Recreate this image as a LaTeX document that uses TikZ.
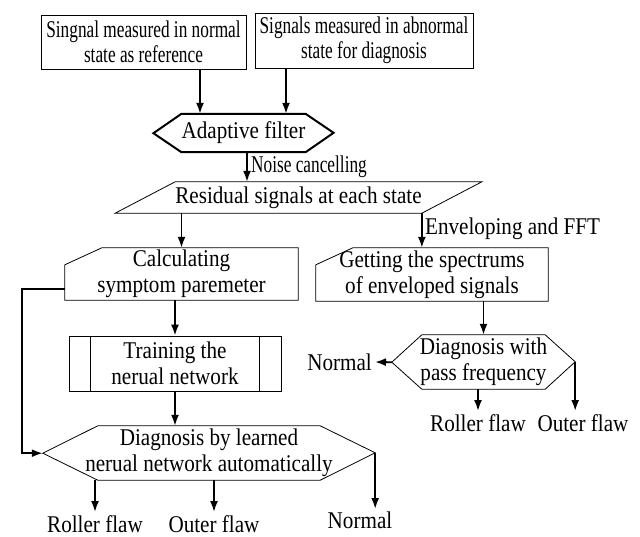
\documentclass[tikz,border=0pt]{standalone}
\usepackage{fontspec}
\setmainfont{Liberation Serif}
\usetikzlibrary{arrows.meta}

\begin{document}
\begin{tikzpicture}[x=1pt, y=-1pt, >={Latex[length=11pt,width=8pt]},
    font=\fontsize{24}{26}\selectfont\addfontfeature{FakeStretch=0.88},
    box/.style={draw, line width=0.8pt, align=center, inner sep=0pt},
    txt/.style={align=center, inner sep=0pt},
    wide/.style={inner xsep=-20pt},
    narrow/.style={font=\fontsize{24}{25}\selectfont\addfontfeature{FakeStretch=0.72}},
    outline/.style={line width=0.8pt},
    flow/.style={->, line width=1.8pt},
    lbl/.style={inner sep=3pt}]
  \useasboundingbox (0,0) rectangle (640,536);

  % input signals
  \node[box, narrow, minimum width=205, minimum height=54] (ref) at (143.5,42) {Singnal measured in normal\\state as reference};
  \node[box, narrow, minimum width=218, minimum height=55] (abn) at (364,40.5) {Signals measured in abnormal\\state for diagnosis};

  % adaptive filter
  \node[txt, minimum width=107, minimum height=38] (filter) at (243.5,133) {Adaptive filter};
  \draw[line width=2pt] (filter.north west) -- (filter.north east) -- ++(28,19) -- (filter.south east)
    -- (filter.south west) -- ++(-28,-19) -- cycle;

  % residual signals
  \node[txt, minimum width=243, minimum height=31] (resid) at (298.5,197.5) {Residual signals at each state};
  \draw[outline] (resid.north west) -- ([xshift=60pt]resid.north east) -- (resid.south east)
    -- ([xshift=-60pt]resid.south west) -- cycle;

  % left branch
  \node[txt, minimum width=233, minimum height=52] (calc) at (181.5,274) {Calculating\\symptom paremeter};
  \draw[outline] ([xshift=37pt]calc.north west) -- (calc.north east) -- (calc.south east)
    -- (calc.south west) -- ([yshift=-17pt]calc.north west) -- cycle;

  \node[box, minimum width=212, minimum height=55] (train) at (175,363.5) {Training the\\nerual network};
  \draw[outline] ([xshift=22pt]train.north west) -- ([xshift=22pt]train.south west)
    ([xshift=-22pt]train.north east) -- ([xshift=-22pt]train.south east);

  \node[txt, wide, minimum width=222, minimum height=54] (diagNN) at (209,453) {Diagnosis by learned\\nerual network automatically};
  \draw[outline] (diagNN.north west) -- (diagNN.north east) -- ++(55,27) coordinate (nnR) -- (diagNN.south east)
    -- (diagNN.south west) -- ++(-55,-27) coordinate (nnL) -- cycle;

  % right branch
  \node[txt, minimum width=232, minimum height=53] (spec) at (432,274.5) {Getting the spectrums\\of enveloped signals};
  \draw[outline] ([xshift=37pt]spec.north west) -- (spec.north east) -- (spec.south east)
    -- (spec.south west) -- ([yshift=-17pt]spec.north west) -- cycle;

  \node[txt, wide, minimum width=123, minimum height=54] (diagPF) at (483.5,362) {Diagnosis with\\pass frequency};
  \draw[outline] (diagPF.north west) -- (diagPF.north east) -- ++(30,27) coordinate (pfR) -- (diagPF.south east)
    -- (diagPF.south west) -- ++(-30,-27) coordinate (pfL) -- cycle;

  % results
  \node[lbl, anchor=north] (roll2) at (95,512) {Roller flaw};
  \node[lbl, anchor=north] (out2) at (214,512) {Outer flaw};
  \node[lbl, anchor=north] (norm2) at (360,509) {Normal};
  \node[lbl, anchor=east] (norm1) at (375,362) {Normal};
  \node[lbl, anchor=north] (roll1) at (478,411) {Roller flaw};
  \node[lbl, anchor=north] (out1) at (583,411) {Outer flaw};

  % step notes
  \node[narrow, anchor=west, inner sep=1pt] (noise) at (250,167) {Noise cancelling};
  \node[anchor=west, inner sep=1pt] (envfft) at (424,229) {Enveloping and FFT};

  % connectors
  \draw[flow] ([xshift=56.5pt]ref.south) -- ([xshift=56.5pt]ref.south |- filter.north);
  \draw[flow] ([xshift=-78pt]abn.south) -- ([xshift=-78pt]abn.south |- filter.north);
  \draw[flow] ([xshift=3.5pt]filter.south) -- ([xshift=3.5pt]filter.south |- resid.north);
  \draw[flow] (calc.north |- resid.south) -- (calc.north);
  \draw[flow] (resid.south east) -- (resid.south east |- spec.north);
  \draw[flow] (train.north |- calc.south) -- (train.north);
  \draw[flow] (train.south) -- (train.south |- diagNN.north);
  \draw[flow] ([yshift=-15pt]calc.west) -- ++(-43,0) |- (nnL);
  \draw[flow] (roll2.north |- diagNN.south) -- (roll2.north);
  \draw[flow] (out2.north |- diagNN.south) -- (out2.north);
  \draw[flow] (nnR) -- (nnR |- norm2.north);
  \draw[flow] (diagPF.north |- spec.south) -- (diagPF.north);
  \draw[flow] (pfL) -- (norm1.east);
  \draw[flow] (roll1.north |- diagPF.south) -- (roll1.north);
  \draw[flow] (pfR) -- (pfR |- out1.north);
\end{tikzpicture}
\end{document}
